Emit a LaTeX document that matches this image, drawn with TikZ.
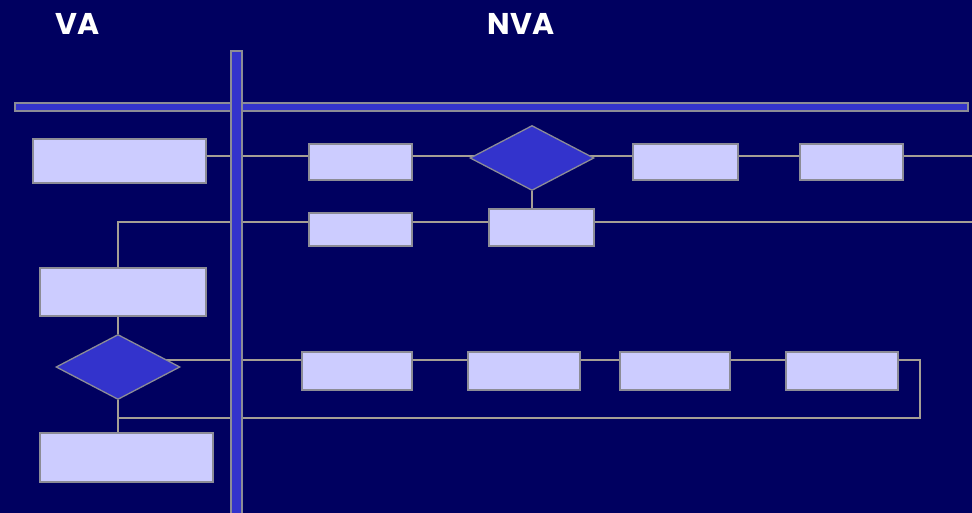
\documentclass[tikz,border=0pt]{standalone}
\usepackage{fontspec}
\setmainfont{Poppins}
\usetikzlibrary{shapes.geometric,backgrounds}
\definecolor{bg}{RGB}{0,0,96}
\definecolor{boxfill}{RGB}{204,204,255}
\definecolor{dfill}{RGB}{51,51,204}
\definecolor{edge}{RGB}{140,140,150}
\definecolor{wire}{RGB}{165,158,148}
\tikzset{
  box/.style={draw=edge, fill=boxfill, line width=1.6pt, inner sep=0pt, anchor=north west},
  dec/.style={diamond, draw=edge, fill=dfill, line width=1.3pt, inner sep=0pt, aspect=1.9},
  bar/.style={draw=edge, fill=dfill, line width=1.3pt},
  wireline/.style={draw=wire, line width=1.3pt},
  title/.style={text=white, font=\bfseries\fontsize{30}{30}\selectfont}
}
\begin{document}
\begin{tikzpicture}[x=1pt,y=-1pt]
\useasboundingbox (0,0) rectangle (972,513);
\node[title] (va) at (78,24) {VA};
\node[title] (nva) at (521,24) {NVA};
% bars
\draw[bar] (15,103) rectangle (968,111);
\draw[bar] (231,51) rectangle (242,520);
% boxes
\node[box, minimum width=173pt, minimum height=44pt] (A1) at (32,138) {};
\node[box, minimum width=166pt, minimum height=48pt] (A2) at (39,267) {};
\node[box, minimum width=173pt, minimum height=49pt] (A3) at (39,432) {};
\node[box, minimum width=103pt, minimum height=36pt] (B1) at (308,143) {};
\node[box, minimum width=105pt, minimum height=36pt] (C1) at (632,143) {};
\node[box, minimum width=103pt, minimum height=36pt] (E1) at (799,143) {};
\node[box, minimum width=103pt, minimum height=33pt] (B2) at (308,212) {};
\node[box, minimum width=105pt, minimum height=37pt] (C2) at (488,208) {};
\node[box, minimum width=110pt, minimum height=38pt] (B3) at (301,351) {};
\node[box, minimum width=112pt, minimum height=38pt] (C3) at (467,351) {};
\node[box, minimum width=110pt, minimum height=38pt] (D3) at (619,351) {};
\node[box, minimum width=112pt, minimum height=38pt] (E3) at (785,351) {};
\node[dec, minimum width=124pt, minimum height=65pt] (D1) at (532,158) {};
\node[dec, minimum width=124pt, minimum height=65pt] (D2) at (118,367) {};
\coordinate (r1) at (972,156);
\coordinate (r2) at (972,222);
\coordinate (r3) at (920,360);
\coordinate (r4) at (920,418);
\begin{scope}[on background layer]
\fill[bg] (0,0) rectangle (972,513);
\draw[wireline] (A1.east |- r1) -- (r1);
\draw[wireline] (D1.south) -- (D1.south |- C2.north);
\draw[wireline] (A2.north -| D2) |- (r2);
\draw[wireline] (A2.south -| D2) -- (D2.north);
\draw[wireline] (D2 |- r3) -- (r3) -- (r4) -| (A3.north -| D2);
\draw[wireline] (D2.south) -- (D2 |- r4);
\end{scope}
\end{tikzpicture}
\end{document}
